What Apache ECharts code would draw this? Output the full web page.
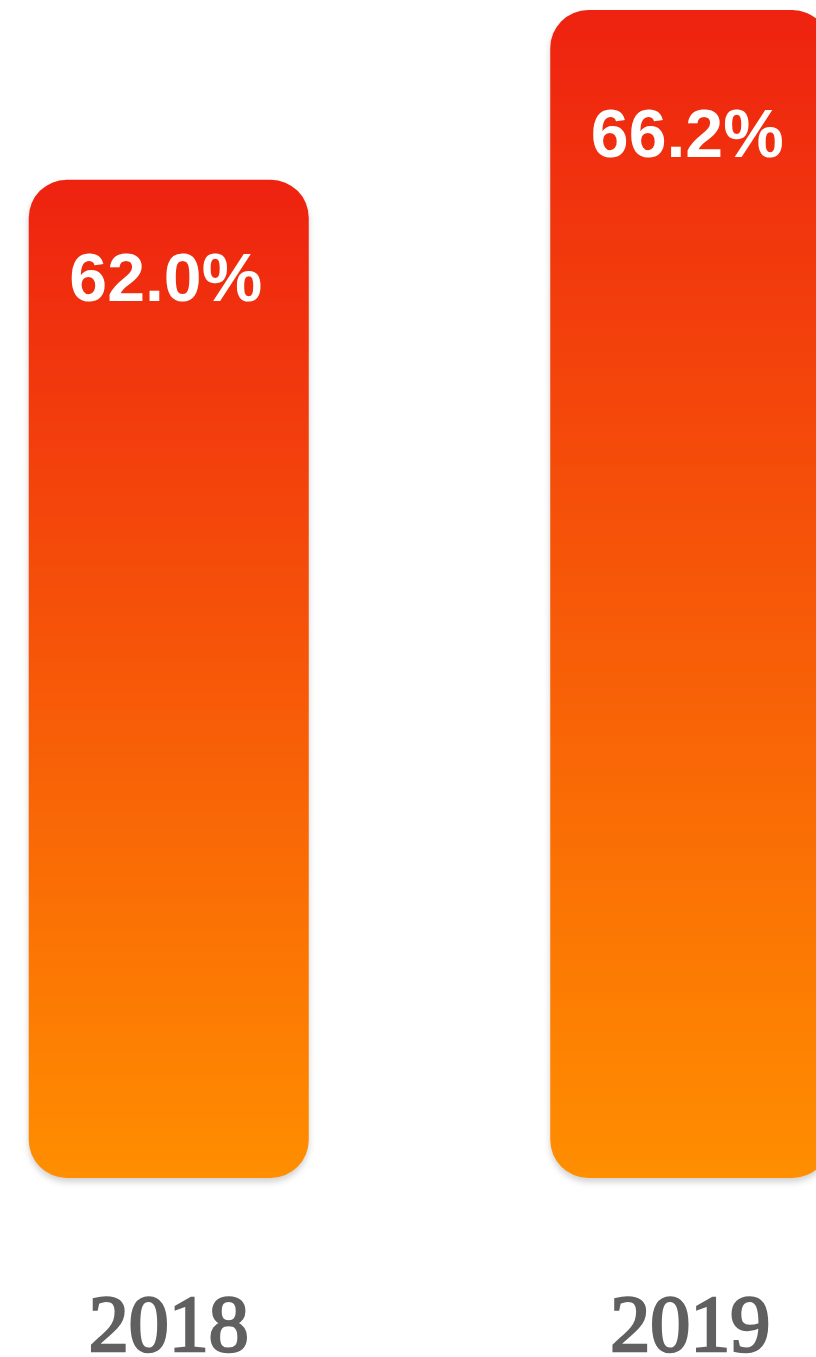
<!DOCTYPE html>
<html>
<head>
<meta charset="utf-8">
<script src="https://cdn.jsdelivr.net/npm/echarts@6/dist/echarts.min.js"></script>
<style>
  html, body { margin: 0; padding: 0; background: #ffffff; }
  #chartContainer { width: 816px; height: 1357px; }
</style>
</head>
<body>
<div id="chartContainer"></div>
<script>
// Chart data
const years = ['2018', '2019'];
const shares = [62.0, 66.2];

// Retrieve the chart container element
const chartContainer = document.getElementById('chartContainer');
// Initialize the ECharts instance
const chart = echarts.init(chartContainer);

// Labels sit a bit lower in the taller bar
const labelDrops = [64, 89];

const options = {
  animation: false,
  grid: { left: -92, right: -135, top: 10, bottom: 179, outerBoundsMode: 'none' },
  xAxis: {
    type: 'category',
    data: years,
    axisLine: { show: false },
    axisTick: { show: false },
    axisLabel: {
      margin: 112,
      fontFamily: 'Liberation Serif',
      fontSize: 80,
      color: '#606060',
      textBorderColor: '#606060',
      textBorderWidth: 2.6
    }
  },
  yAxis: {
    type: 'value',
    min: 37.3,
    max: 66.2,
    show: false,
    splitLine: { show: false }
  },
  series: [
    {
      type: 'bar',
      barWidth: 280,
      data: shares.map(function (v, i) {
        return { value: v, label: { offset: [-3, labelDrops[i]] } };
      }),
      itemStyle: {
        borderRadius: 38,
        color: new echarts.graphic.LinearGradient(0, 0, 0, 1, [
          { offset: 0, color: '#ee2210' },
          { offset: 1, color: '#ff8e00' }
        ]),
        shadowColor: 'rgba(0, 0, 0, 0.18)',
        shadowBlur: 6,
        shadowOffsetY: 4
      },
      label: {
        show: true,
        position: 'insideTop',
        formatter: function (p) { return p.value.toFixed(1) + '%'; },
        fontFamily: 'Liberation Sans',
        fontWeight: 'bold',
        fontSize: 68,
        color: '#ffffff'
      }
    }
  ]
};

// Set the options and render the chart
chart.setOption(options);
</script>
</body>
</html>
